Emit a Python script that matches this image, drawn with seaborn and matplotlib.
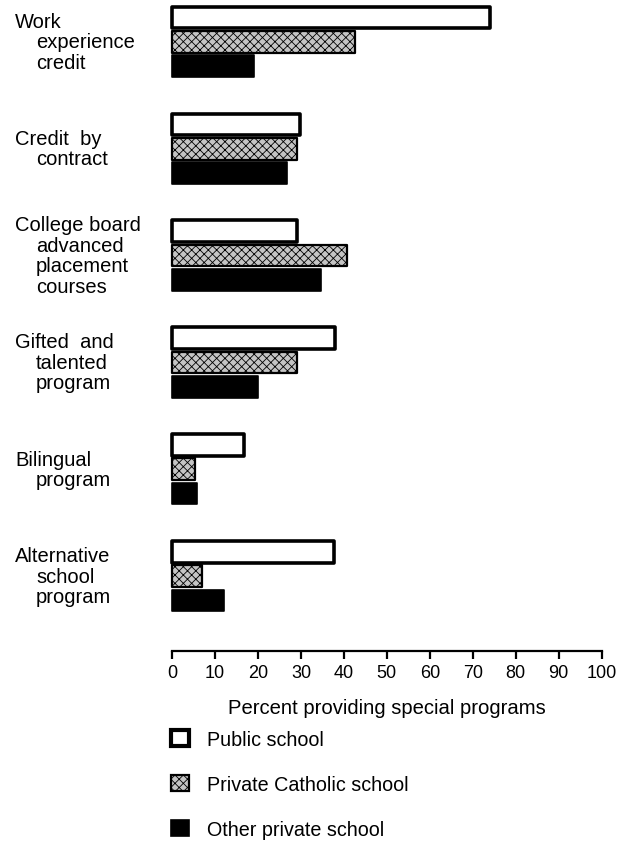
import numpy as np
import pandas as pd
import seaborn as sns
import matplotlib.pyplot as plt
from matplotlib.patches import Patch

# ---- data ----
programs = [
    "Work\nexperience\ncredit",
    "Credit  by\ncontract",
    "College board\nadvanced\nplacement\ncourses",
    "Gifted  and\ntalented\nprogram",
    "Bilingual\nprogram",
    "Alternative\nschool\nprogram",
]
schools = ["Public school", "Private Catholic school", "Other private school"]
public = [74.0, 29.7, 29.0, 38.0, 16.8, 37.6]
catholic = [42.5, 29.0, 40.7, 29.0, 5.4, 7.0]
other = [19.0, 26.8, 34.6, 20.0, 5.9, 12.0]
x_ticks = [0, 10, 20, 30, 40, 50, 60, 70, 80, 90, 100]
x_label = "Percent providing special programs"

df = pd.DataFrame({
    "program": programs * 3,
    "school": [schools[0]] * 6 + [schools[1]] * 6 + [schools[2]] * 6,
    "percent": public + catholic + other,
})

sns.set_theme(style="white")
plt.rcParams["font.family"] = ["Liberation Sans", "DejaVu Sans"]
plt.rcParams["hatch.linewidth"] = 0.6
plt.rcParams["text.color"] = "black"

W, H = 628, 845
fig = plt.figure(figsize=(W / 100, H / 100), dpi=100)
ax = fig.add_axes([172 / W, 1 - 652 / H, (601.7 - 172) / W, 652 / H])

face = ["white", "#c4c4c4", "black"]
sns.barplot(data=df, x="percent", y="program", hue="school",
            order=programs, hue_order=schools, orient="h",
            palette=face, saturation=1, width=0.68, gap=0.1,
            legend=False, ax=ax)

styles = [dict(lw=2.6, hatch=None), dict(lw=1.6, hatch="xxxx"), dict(lw=1.2, hatch=None)]
for cont, st in zip(ax.containers, styles):
    for bar in cont:
        bar.set_edgecolor("black")
        bar.set_linewidth(st["lw"])
        bar.set_joinstyle("round")
        if st["hatch"]:
            bar.set_hatch(st["hatch"])
        bar.set_clip_on(False)

ax.set_xlim(0, 100)
ax.set_ylim(5.70, -0.40)
ax.set_xticks(x_ticks)
ax.set_yticks([])
ax.set_ylabel("")
for s in ["top", "right", "left"]:
    ax.spines[s].set_visible(False)
ax.spines["bottom"].set_bounds(0, 100)
ax.spines["bottom"].set_linewidth(1.6)
ax.spines["bottom"].set_color("black")
ax.tick_params(axis="x", direction="out", length=6, width=1.6, pad=3.5,
               labelsize=13, colors="black", bottom=True)
ax.set_xlabel(x_label, fontsize=14.6, labelpad=12, color="black")

# category labels, multi-line with indented continuation lines
for i, prog in enumerate(programs):
    lines = prog.split("\n")
    n = len(lines)
    for j, line in enumerate(lines):
        x = 15 / W if j == 0 else 36 / W
        ax.annotate(line, xy=(x, i), xycoords=(fig.transFigure, ax.transData),
                    xytext=(0, ((n - 1) / 2 - j) * 14.8), textcoords="offset points",
                    ha="left", va="center", fontsize=14.5, color="black",
                    annotation_clip=False)

handles = [
    Patch(facecolor="white", edgecolor="black", linewidth=3.0),
    Patch(facecolor="#c4c4c4", edgecolor="black", linewidth=1.6, hatch="xxxx"),
    Patch(facecolor="black", edgecolor="black", linewidth=1.2),
]
leg = fig.legend(handles, schools, loc="upper left", bbox_to_anchor=(171 / W, 1 - 731 / H),
                 frameon=False, fontsize=14.2, handlelength=0.9, handleheight=0.9,
                 handletextpad=0.95, labelspacing=1.32, borderpad=0, borderaxespad=0)
for t in leg.get_texts():
    t.set_color("black")

fig.savefig("out.png", dpi=100)
